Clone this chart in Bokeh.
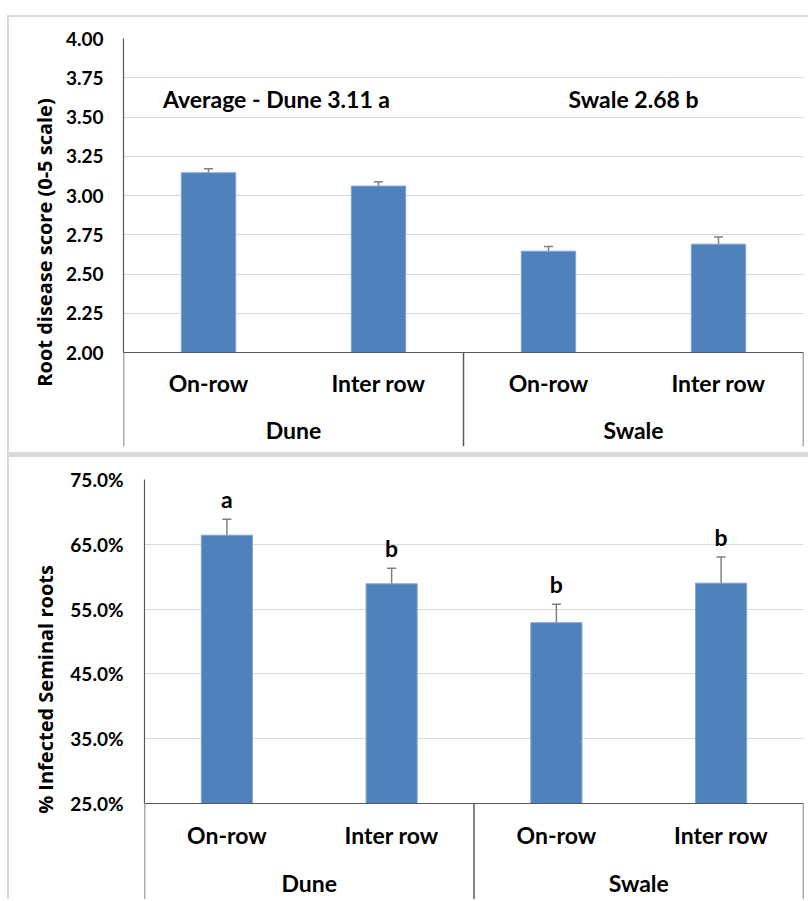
from bokeh.plotting import figure
from bokeh.models import (ColumnDataSource, FactorRange, Range1d, FixedTicker,
                          PrintfTickFormatter, NumeralTickFormatter, Whisker,
                          TeeHead, Label)
from bokeh.embed import file_html
from bokeh.resources import INLINE
from bokeh.core.properties import value

# ---------------- data ----------------
sites = ["Dune", "Dune", "Swale", "Swale"]
positions = ["On-row", "Inter row", "On-row", "Inter row"]

disease_score = [3.145, 3.06, 2.645, 2.69]
disease_se = [0.025, 0.027, 0.03, 0.045]
average_labels = ["Average - Dune 3.11 a", "Swale 2.68 b"]
score_ticks = [2.0, 2.25, 2.5, 2.75, 3.0, 3.25, 3.5, 3.75, 4.0]

infected_pct = [66.4, 58.9, 52.9, 59.0]
infected_se = [2.45, 2.4, 2.85, 4.05]
letters = ["a", "b", "b", "b"]
pct_ticks = [25, 35, 45, 55, 65, 75]

# ---------------- style ----------------
BAR = "#4F81BD"
ERR = "#7f7f7f"
AX = "#595959"
GRID = "#d9d9d9"
BOX = "#d9d9d9"
FONT = "Lato"
TITLE_FONT = "Open Sans"

factors = list(zip(sites, positions))


def make_range():
    return FactorRange(factors=factors, factor_padding=0, group_padding=0,
                       subgroup_padding=0, range_padding=0)


def grad(x, y, w, h, c=BOX):
    return f"linear-gradient({c},{c}) {x}px {y}px / {w}px {h}px no-repeat"


def style(p, ylabel, tick_standoff, label_standoff, cat_standoff, base):
    p.outline_line_color = None
    p.border_fill_color = None
    p.xgrid.grid_line_color = None
    p.ygrid.grid_line_color = GRID
    p.ygrid.grid_line_width = 1
    ya = p.yaxis[0]
    ya.axis_label = ylabel
    ya.axis_label_text_font = TITLE_FONT
    ya.axis_label_text_font_size = "20px"
    ya.axis_label_text_font_style = "bold"
    ya.axis_label_text_color = "black"
    ya.axis_label_standoff = label_standoff
    ya.major_label_text_font = FONT
    ya.major_label_text_font_size = "19px"
    ya.major_label_text_font_style = "bold"
    ya.major_label_text_color = "black"
    ya.major_tick_line_color = None
    ya.minor_tick_line_color = None
    ya.major_tick_out = 0
    ya.major_tick_in = 0
    ya.major_label_standoff = tick_standoff
    ya.axis_line_color = AX
    ya.axis_line_width = 1.2
    xa = p.xaxis[0]
    xa.fixed_location = base
    xa.major_label_text_font = FONT
    xa.major_label_text_font_size = "23px"
    xa.major_label_text_font_style = "bold"
    xa.major_label_text_color = "black"
    xa.group_text_font = FONT
    xa.group_text_font_size = "23px"
    xa.group_text_font_style = "bold"
    xa.group_text_color = "black"
    xa.separator_line_color = None
    xa.major_tick_line_color = None
    xa.minor_tick_line_color = None
    xa.major_tick_out = 0
    xa.major_tick_in = 0
    xa.major_label_standoff = cat_standoff
    xa.axis_line_color = AX
    xa.axis_line_width = 1.2


W = 808

# ---------------- top chart ----------------
# frame: x 123..803, y 38..446 ; 2.00 -> 352, 4.00 -> 38
H1 = 455
top1, left1, right1, bottom1 = 38, 123, W - 803, H1 - 446
ppu1 = (352 - 38) / 2.0
ymin1 = 2.0 - (446 - 352) / ppu1
p1 = figure(x_range=make_range(), y_range=Range1d(ymin1, 4.0),
            width=W, height=H1, min_border_left=left1, min_border_right=right1,
            min_border_top=top1, min_border_bottom=bottom1,
            output_backend="svg", toolbar_location=None,
            styles={"background": ", ".join([
                grad(8, 15, W - 8, 2), grad(7, 15, 2, 440),
                grad(7, 452, W - 7, 3)])})
style(p1, "Root disease score (0-5 scale)", 20, 5, 16, 2.0)
p1.yaxis[0].ticker = FixedTicker(ticks=score_ticks)
p1.yaxis[0].formatter = NumeralTickFormatter(format="0.00")
p1.yaxis[0].bounds = (score_ticks[0], score_ticks[-1])

src1 = ColumnDataSource(dict(x=factors, top=disease_score,
                             upper=[v + e for v, e in zip(disease_score, disease_se)]))
p1.vbar(x="x", top="top", bottom=score_ticks[0], width=0.32, source=src1,
        fill_color=BAR, line_color="#7FA3D3", line_width=1)
p1.add_layout(Whisker(base="x", lower="top", upper="upper", source=src1,
                      line_color=ERR, line_width=1.5, lower_head=None,
                      upper_head=TeeHead(size=9, line_color=ERR, line_width=1.5)))
for xx, txt in zip([0.9, 3.0], average_labels):
    p1.add_layout(Label(x=xx, y=3.615, text=txt, text_align="center",
                        text_baseline="middle", text_font=FONT,
                        text_font_size="23px", text_font_style="bold",
                        text_color="black"))
# group separator lines below the category axis
p1.segment(x0=[0, 2, 4], y0=score_ticks[0], x1=[0, 2, 4], y1=ymin1,
           line_color=AX, line_width=1.5)

# ---------------- bottom chart ----------------
# frame: x 144..803, y (page) 479..899 ; 75% -> 479, 25% -> 803
H2 = 444
top2 = 24
ppu2 = (803 - 479) / 50.0
ymin2 = 25 - (H2 - (803 - 455)) / ppu2
p2 = figure(x_range=make_range(), y_range=Range1d(ymin2, 75),
            width=W, height=H2, min_border_left=144, min_border_right=W - 803,
            min_border_top=top2, min_border_bottom=0,
            output_backend="svg", toolbar_location=None,
            styles={"background": ", ".join([
                grad(7, 0, W - 7, 2), grad(7, 0, 2, H2)])})
style(p2, "% Infected Seminal roots", 21, 8, 17, 25)
p2.yaxis[0].ticker = FixedTicker(ticks=pct_ticks)
p2.yaxis[0].formatter = PrintfTickFormatter(format="%.1f%%")
p2.yaxis[0].bounds = (pct_ticks[0], pct_ticks[-1])

src2 = ColumnDataSource(dict(x=factors, top=infected_pct,
                             upper=[v + e for v, e in zip(infected_pct, infected_se)],
                             letter=letters))
p2.vbar(x="x", top="top", bottom=pct_ticks[0], width=0.31, source=src2,
        fill_color=BAR, line_color="#7FA3D3", line_width=1)
p2.add_layout(Whisker(base="x", lower="top", upper="upper", source=src2,
                      line_color=ERR, line_width=1.5, lower_head=None,
                      upper_head=TeeHead(size=9, line_color=ERR, line_width=1.5)))
p2.text(x="x", y="upper", text="letter", source=src2, text_align="center",
        text_baseline="bottom", y_offset=-6, text_font=value(FONT),
        text_font_size="23px", text_font_style="bold", text_color="black")
p2.segment(x0=[0, 2, 4], y0=pct_ticks[0], x1=[0, 2, 4], y1=ymin2,
           line_color=AX, line_width=1.5)

open("out.html", "w").write(file_html([p1, p2], INLINE))
